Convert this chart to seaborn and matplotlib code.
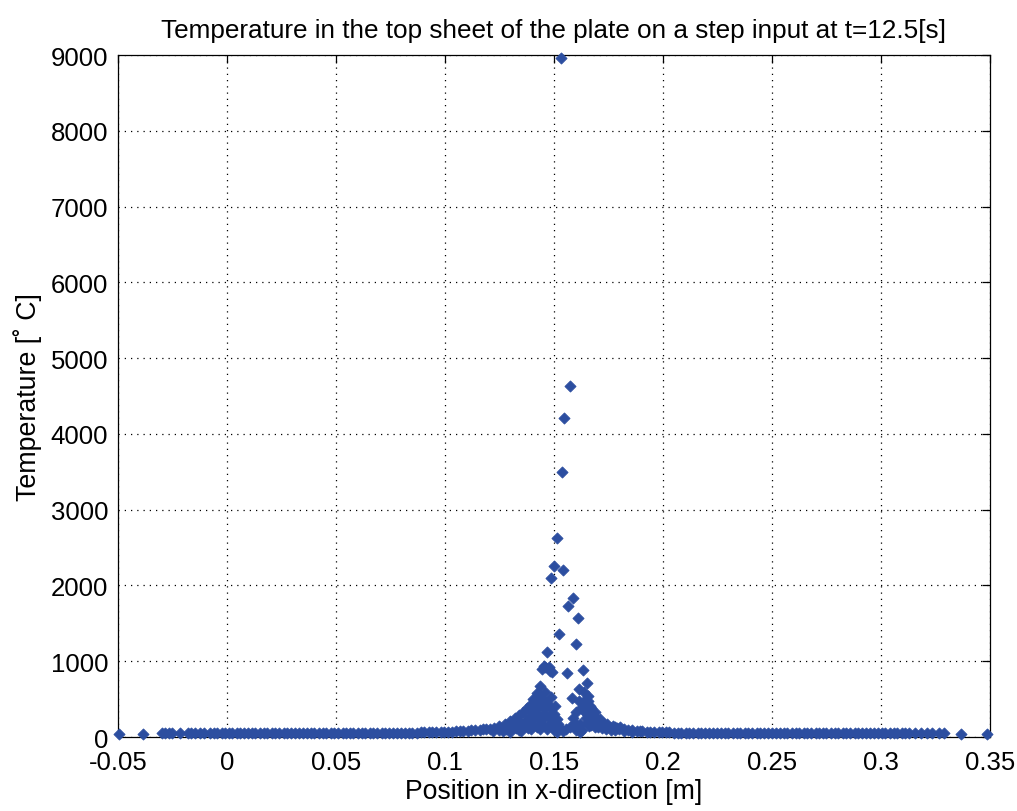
import numpy as np
import pandas as pd
import matplotlib
matplotlib.use("Agg")
import matplotlib.pyplot as plt
import seaborn as sns

# ---------------- data ----------------
# flat part on the left
x_left = [-0.0495, -0.0385, -0.0300, -0.0282, -0.0265, -0.0250, -0.0215, -0.0180,
          -0.0165, -0.0145, -0.0125, -0.0105, -0.0080, -0.0060, -0.0045, -0.0025,
          -0.0010, 0.0010, 0.0025, 0.0045, 0.0060, 0.0080, 0.0095, 0.0115, 0.0130,
          0.0150, 0.0170, 0.0185, 0.0205, 0.0220, 0.0240, 0.0260, 0.0275, 0.0295,
          0.0310, 0.0330, 0.0350, 0.0365, 0.0385, 0.0400, 0.0420, 0.0440, 0.0455,
          0.0475, 0.0490, 0.0510, 0.0530, 0.0545, 0.0565, 0.0580, 0.0600, 0.0620,
          0.0635, 0.0655, 0.0670, 0.0690, 0.0710, 0.0725, 0.0745, 0.0760, 0.0780,
          0.0800, 0.0815, 0.0835, 0.0850, 0.0870, 0.0890, 0.0905, 0.0925, 0.0940,
          0.0960, 0.0980, 0.0995, 0.1015, 0.1030, 0.1050, 0.1070, 0.1085, 0.1105,
          0.1120, 0.1140, 0.1160, 0.1175, 0.1190]
t_left = [40, 45, 48, 50, 47, 52, 50, 48,
          52, 50, 53, 50, 52, 55, 53, 56,
          54, 55, 53, 56, 55, 54, 56, 55, 53,
          56, 55, 54, 56, 55, 53, 56, 55, 54,
          56, 55, 53, 56, 55, 54, 56, 55, 53,
          56, 55, 54, 56, 55, 53, 56, 55, 54,
          56, 55, 53, 56, 55, 54, 56, 55, 57,
          56, 58, 57, 59, 58, 60, 61, 62, 63,
          65, 66, 68, 70, 72, 74, 77, 80, 84,
          88, 93, 98, 104, 110]

# peak region
x_peak = [0.1205, 0.1225, 0.1250, 0.1275, 0.1300, 0.1320, 0.1340, 0.1360, 0.1375,
          0.1390, 0.1405, 0.1420, 0.1436, 0.1454, 0.1467, 0.1482, 0.1490, 0.1488,
          0.1220, 0.1250, 0.1280, 0.1310, 0.1330, 0.1350, 0.1370, 0.1390, 0.1410,
          0.1430, 0.1445, 0.1460, 0.1300, 0.1340, 0.1380, 0.1410, 0.1440, 0.1460,
          0.1480, 0.1436, 0.1436, 0.1490, 0.1490, 0.1505, 0.1490, 0.1520, 0.1512,
          0.1500, 0.1540, 0.1555, 0.1575, 0.1531, 0.1573, 0.1547, 0.1538, 0.1512,
          0.1500, 0.1540, 0.1488, 0.1586, 0.1566, 0.1610, 0.1522, 0.1602, 0.1558,
          0.1633, 0.1650, 0.1616, 0.1584, 0.1586, 0.1612, 0.1657, 0.1665, 0.1688,
          0.1711, 0.1742, 0.1780, 0.1803, 0.1856, 0.1894, 0.1635, 0.1642, 0.1665,
          0.1680, 0.1700, 0.1725, 0.1760, 0.1800, 0.1840, 0.1880, 0.1600, 0.1620,
          0.1650, 0.1680, 0.1720, 0.1760, 0.1620, 0.1660, 0.1700, 0.1740, 0.1780,
          0.1820, 0.1860,
          0.1265, 0.1295, 0.1325, 0.1355, 0.1385, 0.1400, 0.1425, 0.1450, 0.1470,
          0.1455, 0.1475, 0.1395, 0.1420, 0.1350, 0.1470, 0.1500, 0.1445, 0.1460,
          0.1475, 0.1430, 0.1415, 0.1515, 0.1530,
          0.1640, 0.1655, 0.1670, 0.1690, 0.1705, 0.1725, 0.1750, 0.1770, 0.1790,
          0.1820, 0.1645, 0.1670, 0.1690, 0.1625, 0.1600, 0.1630, 0.1675, 0.1710,
          0.1735, 0.1655, 0.1615, 0.1595]
t_peak = [105, 120, 150, 175, 210, 250, 290, 330, 380,
          420, 500, 580, 668, 941, 1126, 875, 860, 528,
          80, 95, 110, 130, 160, 190, 230, 280, 350,
          420, 500, 600, 70, 90, 120, 160, 220, 300,
          380, 237, 105, 281, 200, 413, 149, 171, 60,
          90, 75, 100, 130, 8960, 4631, 4213, 3500, 2630,
          2252, 2207, 2102, 1838, 1732, 1574, 1363, 1231, 844,
          879, 712, 633, 519, 255, 128, 545, 413, 325,
          237, 171, 130, 128, 96, 80, 457, 325, 237,
          280, 200, 160, 125, 110, 95, 85, 90, 170,
          300, 180, 120, 95, 60, 150, 130, 100, 90,
          75, 70,
          85, 100, 120, 150, 200, 240, 300, 380, 450,
          160, 250, 100, 130, 75, 100, 300, 900, 920,
          930, 560, 440, 240, 120,
          600, 480, 380, 270, 215, 190, 150, 140, 120,
          105, 250, 160, 130, 380, 330, 90, 300, 170,
          140, 200, 480, 180]

# flat part on the right
x_right = [0.1905, 0.1925, 0.1940, 0.1960, 0.1980, 0.1995, 0.2015, 0.2030, 0.2050,
           0.2070, 0.2085, 0.2105, 0.2120, 0.2140, 0.2160, 0.2175, 0.2195, 0.2210,
           0.2230, 0.2250, 0.2265, 0.2285, 0.2300, 0.2320, 0.2340, 0.2355, 0.2375,
           0.2390, 0.2410, 0.2430, 0.2445, 0.2465, 0.2480, 0.2500, 0.2520, 0.2535,
           0.2555, 0.2570, 0.2590, 0.2610, 0.2625, 0.2645, 0.2660, 0.2680, 0.2700,
           0.2715, 0.2735, 0.2750, 0.2770, 0.2790, 0.2805, 0.2825, 0.2840, 0.2860,
           0.2880, 0.2895, 0.2915, 0.2930, 0.2950, 0.2970, 0.2985, 0.3005, 0.3020,
           0.3040, 0.3060, 0.3075, 0.3095, 0.3110, 0.3130, 0.3155, 0.3185, 0.3210,
           0.3235, 0.3265, 0.3290, 0.3365, 0.3487]
t_right = [75, 70, 68, 66, 64, 62, 61, 60, 59,
           58, 57, 58, 56, 57, 55, 56, 57, 55,
           56, 54, 56, 55, 57, 54, 56, 55, 56,
           54, 56, 55, 57, 54, 56, 55, 56, 54,
           56, 55, 57, 54, 56, 55, 56, 54, 56,
           55, 57, 54, 56, 55, 56, 54, 56, 55,
           57, 54, 56, 55, 56, 54, 56, 55, 53,
           54, 52, 53, 51, 52, 50, 50, 48, 50,
           48, 49, 47, 45, 42]

x_ticks = [-0.05, 0, 0.05, 0.1, 0.15, 0.2, 0.25, 0.3, 0.35]
x_tick_labels = ["-0.05", "0", "0.05", "0.1", "0.15", "0.2", "0.25", "0.3", "0.35"]
y_ticks = [0, 1000, 2000, 3000, 4000, 5000, 6000, 7000, 8000, 9000]

df = pd.DataFrame({
    "x": x_left + x_peak + x_right,
    "T": t_left + t_peak + t_right,
})

# ---------------- plot ----------------
sns.set_style("white")
plt.rcParams["font.family"] = ["Liberation Sans", "DejaVu Sans"]
plt.rcParams["text.color"] = "black"
plt.rcParams["axes.labelcolor"] = "black"

fig = plt.figure(figsize=(10.17, 8.12), dpi=100)
ax = fig.add_axes([0.116, 0.0911, 0.8574, 0.8399])

sns.scatterplot(data=df, x="x", y="T", ax=ax, marker="D", s=32,
                color="#2c4ea0", edgecolor="#2c4ea0", linewidth=0.6,
                zorder=3, clip_on=False)

ax.set_xlim(-0.05, 0.35)
ax.set_ylim(0, 9000)
ax.set_xticks(x_ticks)
ax.set_xticklabels(x_tick_labels)
ax.set_yticks(y_ticks)
ax.set_yticklabels([str(v) for v in y_ticks])

ax.grid(True, color="black", linestyle=(0, (1, 4)), linewidth=0.9)
ax.set_axisbelow(True)
for sp in ax.spines.values():
    sp.set_visible(True)
    sp.set_color("black")
    sp.set_linewidth(0.9)
ax.tick_params(direction="in", length=6, width=0.9, top=True, right=True,
               labelsize=18.5, colors="black")
ax.tick_params(axis="x", pad=9)
ax.tick_params(axis="y", pad=7)

ax.set_xlabel("Position in x-direction [m]", fontsize=19.2, labelpad=3, color="black")
ax.set_ylabel("Temperature [˚ C]", fontsize=19.3, labelpad=6, color="black")
ax.set_title("Temperature in the top sheet of the plate on a step input at t=12.5[s]",
             fontsize=18.8, pad=13, color="black")

fig.savefig("out.png", dpi=100, facecolor="white")
